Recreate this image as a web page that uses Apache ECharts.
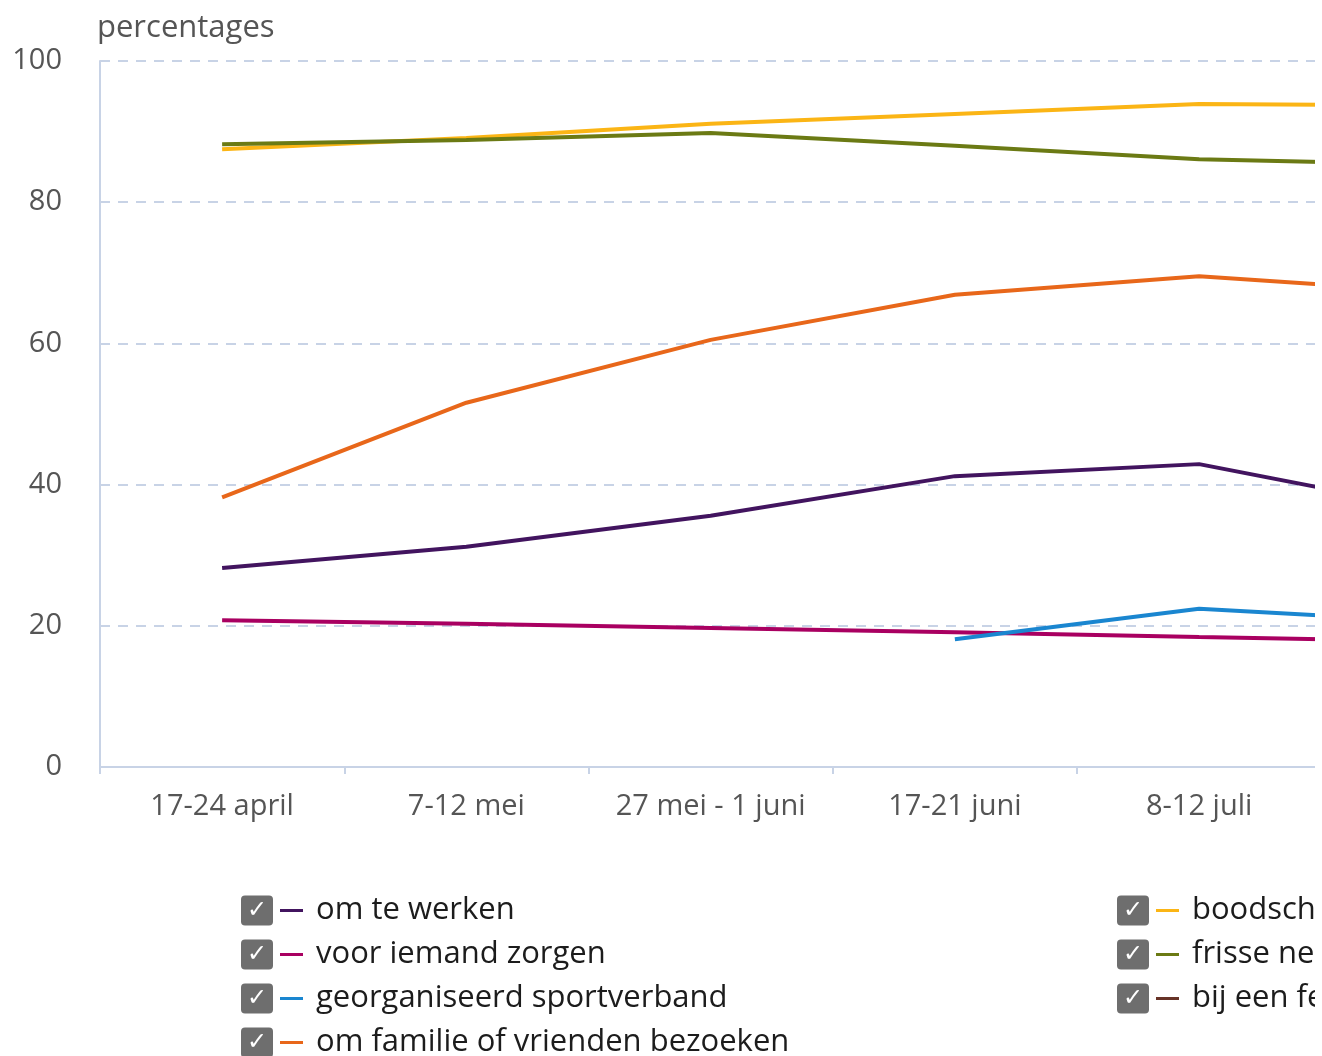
<!DOCTYPE html>
<html><head><meta charset="utf-8">
<script src="https://cdn.jsdelivr.net/npm/echarts@6/dist/echarts.min.js"></script>
<style>html,body{margin:0;padding:0;background:#fff}#c{width:1322px;height:1056px}</style>
</head><body><div id="c"></div>
<script>
const categories = ['17-24 april', '7-12 mei', '27 mei - 1 juni', '17-21 juni', '8-12 juli', ''];
const omTeWerken = [28.2, 31.2, 35.6, 41.2, 42.9, 36.2];
const voorIemandZorgen = [20.8, 20.3, 19.7, 19.1, 18.4, 17.8];
const sportverband = [null, null, null, 18.1, 22.4, 20.5];
const familieBezoeken = [38.2, 51.6, 60.5, 66.9, 69.5, 67.2];
const boodschappen = [87.5, 89.1, 91.1, 92.5, 93.9, 93.7];
const frisseNeus = [88.2, 88.8, 89.8, 88.0, 86.1, 85.3];
const bijEenFeest = [null, null, null, null, null, null];
const yTicks = [0, 20, 40, 60, 80, 100];

const seriesDefs = [
  {name: 'om te werken', data: omTeWerken, color: '#42145f'},
  {name: 'voor iemand zorgen', data: voorIemandZorgen, color: '#a90061'},
  {name: 'georganiseerd sportverband', data: sportverband, color: '#1a86d0'},
  {name: 'om familie of vrienden bezoeken', data: familieBezoeken, color: '#e8671a'},
  {name: 'boodschappen doen', data: boodschappen, color: '#fbb515'},
  {name: 'frisse neus halen', data: frisseNeus, color: '#6b7a14'},
  {name: 'bij een feest', data: bijEenFeest, color: '#673327'}
];

const rich = {
  box: {backgroundColor: '#6e6e6e', color: '#fff', width: 32, height: 30, borderRadius: 4, align: 'center', fontSize: 24, fontWeight: 'bold', lineHeight: 30, fontFamily: 'DejaVu Sans'},
  sp1: {width: 7},
  sp2: {width: 13},
  t: {fontSize: 31, color: '#1c1c1c', fontFamily: 'Open Sans', lineHeight: 30}
};
seriesDefs.forEach((s, i) => { rich['l' + i] = {backgroundColor: s.color, width: 23, height: 3, fontSize: 3, lineHeight: 3}; });

function fmt(name) {
  const i = seriesDefs.findIndex(s => s.name === name);
  return '{box|✓}{sp1| }{l' + i + '| }{sp2| }{t|' + name + '}';
}

const chart = echarts.init(document.getElementById('c'), null, {renderer: 'canvas'});
const legendCommon = {
  orient: 'vertical', itemWidth: 0, itemHeight: 0, itemGap: 13, icon: 'rect',
  selectedMode: false, formatter: fmt, padding: 0, height: 200,
  textStyle: {rich: rich, fontFamily: 'Open Sans'}
};
chart.setOption({
  animation: false,
  title: {text: 'percentages', left: 97, top: 13, padding: 0, textStyle: {fontFamily: 'Open Sans', fontSize: 31, fontWeight: 'normal', color: '#555'}},
  grid: {left: 100, top: 61, bottom: 289, width: 1465.5, containLabel: false, outerBoundsMode: 'none'},
  legend: [
    Object.assign({}, legendCommon, {left: 236, top: 895, data: seriesDefs.slice(0, 4).map(s => s.name)}),
    Object.assign({}, legendCommon, {left: 1112, top: 895, data: seriesDefs.slice(4).map(s => s.name)})
  ],
  xAxis: {
    type: 'category', data: categories, boundaryGap: true,
    axisLine: {lineStyle: {color: '#c8d3e6', width: 2}},
    axisTick: {show: true, length: 7, lineStyle: {color: '#c8d3e6', width: 2}},
    axisLabel: {fontFamily: 'Open Sans', fontSize: 29, color: '#555', margin: 25, interval: 0}
  },
  yAxis: {
    type: 'value', min: yTicks[0], max: yTicks[yTicks.length - 1], interval: 20,
    axisLine: {show: true, lineStyle: {color: '#c8d3e6', width: 2}},
    axisTick: {show: false},
    axisLabel: {fontFamily: 'Open Sans', fontSize: 29, color: '#555', margin: 38},
    splitLine: {lineStyle: {color: '#c8d3e6', type: [10, 8], width: 2}}
  },
  series: seriesDefs.map(s => ({
    name: s.name, type: 'line', data: s.data, showSymbol: false, symbol: 'none',
    color: s.color, lineStyle: {width: 4, color: s.color}, connectNulls: false
  })),
  graphic: [{type: 'rect', right: 0, top: 0, shape: {width: 7, height: 1056}, style: {fill: '#fff'}, z: 1000}]
});
</script></body></html>
